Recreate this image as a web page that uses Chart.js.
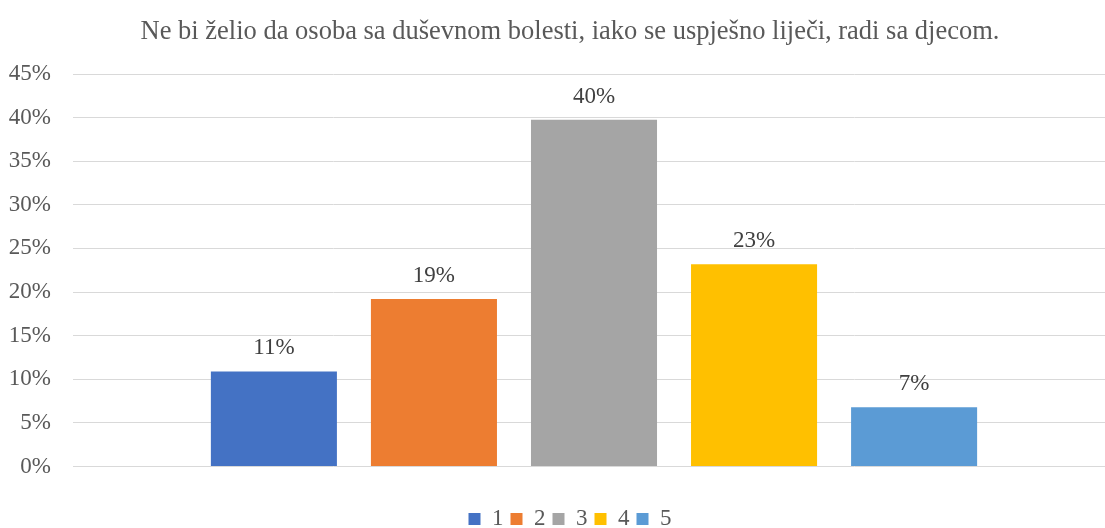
<!DOCTYPE html>
<html>
<head>
<meta charset="utf-8">
<script src="https://cdn.jsdelivr.net/npm/chart.js@4/dist/chart.umd.min.js"></script>
<style>
html,body{margin:0;padding:0;background:#fff;overflow:hidden;width:1105px;height:528px;}
canvas{display:block;}
</style>
</head>
<body>
<canvas id="c" width="1140" height="528" style="width:1140px;height:528px"></canvas>
<script>
const titleText = 'Ne bi želio da osoba sa duševnom bolesti, iako se uspješno liječi, radi sa djecom.';
const categories = [''];
const seriesNames = ['1', '2', '3', '4', '5'];
const seriesValues = [10.9, 19.2, 39.75, 23.2, 6.8];
const seriesColors = ['#4472C4', '#ED7D31', '#A5A5A5', '#FFC000', '#5B9BD5'];
const yTicks = [0, 5, 10, 15, 20, 25, 30, 35, 40, 45];

const FONT = '"Liberation Serif", "Times New Roman", serif';
const TXT = '#595959';

const datasets = seriesNames.map((n, i) => ({
  label: n,
  data: [seriesValues[i]],
  backgroundColor: seriesColors[i],
  borderWidth: 0,
  categoryPercentage: 0.768,
  barPercentage: 0.7875
}));

const labelPlugin = {
  id: 'valueLabels',
  afterDatasetsDraw(chart) {
    const ctx = chart.ctx;
    ctx.save();
    ctx.font = '23px ' + FONT;
    ctx.fillStyle = '#404040';
    ctx.textAlign = 'center';
    ctx.textBaseline = 'alphabetic';
    chart.data.datasets.forEach((ds, i) => {
      const meta = chart.getDatasetMeta(i);
      meta.data.forEach((el, j) => {
        ctx.fillText(Math.round(ds.data[j]) + '%', el.x, el.y - 17);
      });
    });
    ctx.restore();
  }
};

new Chart(document.getElementById('c'), {
  type: 'bar',
  data: { labels: categories, datasets },
  plugins: [labelPlugin],
  options: {
    responsive: false,
    animation: false,
    devicePixelRatio: 1,
    layout: { padding: { left: 0, right: 0, top: 0, bottom: -12.5 } },
    plugins: {
      title: {
        display: true,
        text: titleText,
        color: TXT,
        font: { family: FONT, size: 26.5, weight: 'normal' },
        padding: { top: 16, bottom: 26.2 }
      },
      legend: {
        position: 'bottom',
        labels: {
          boxWidth: 12,
          boxHeight: 12,
          padding: 7,
          color: TXT,
          font: { family: FONT, size: 23 }
        },
        padding: 0
      },
      tooltip: { enabled: false }
    },
    scales: {
      x: {
        grid: { display: false },
        border: { display: false },
        ticks: { display: false },
        afterFit(s) { s.height = 34; }
      },
      y: {
        min: 0,
        max: 45,
        afterBuildTicks(s) { s.ticks = yTicks.map(v => ({ value: v })); },
        ticks: {
          callback: v => v + '%',
          color: TXT,
          padding: 22,
          font: { family: FONT, size: 23 }
        },
        grid: { color: '#D9D9D9', lineWidth: 1, drawTicks: false },
        border: { display: false },
        afterFit(s) { s.width = 73; }
      },
      y2: {
        position: 'right',
        display: true,
        grid: { display: false },
        border: { display: false },
        ticks: { display: false },
        afterFit(s) { s.width = 25; }
      }
    }
  }
});
</script>
</body>
</html>
